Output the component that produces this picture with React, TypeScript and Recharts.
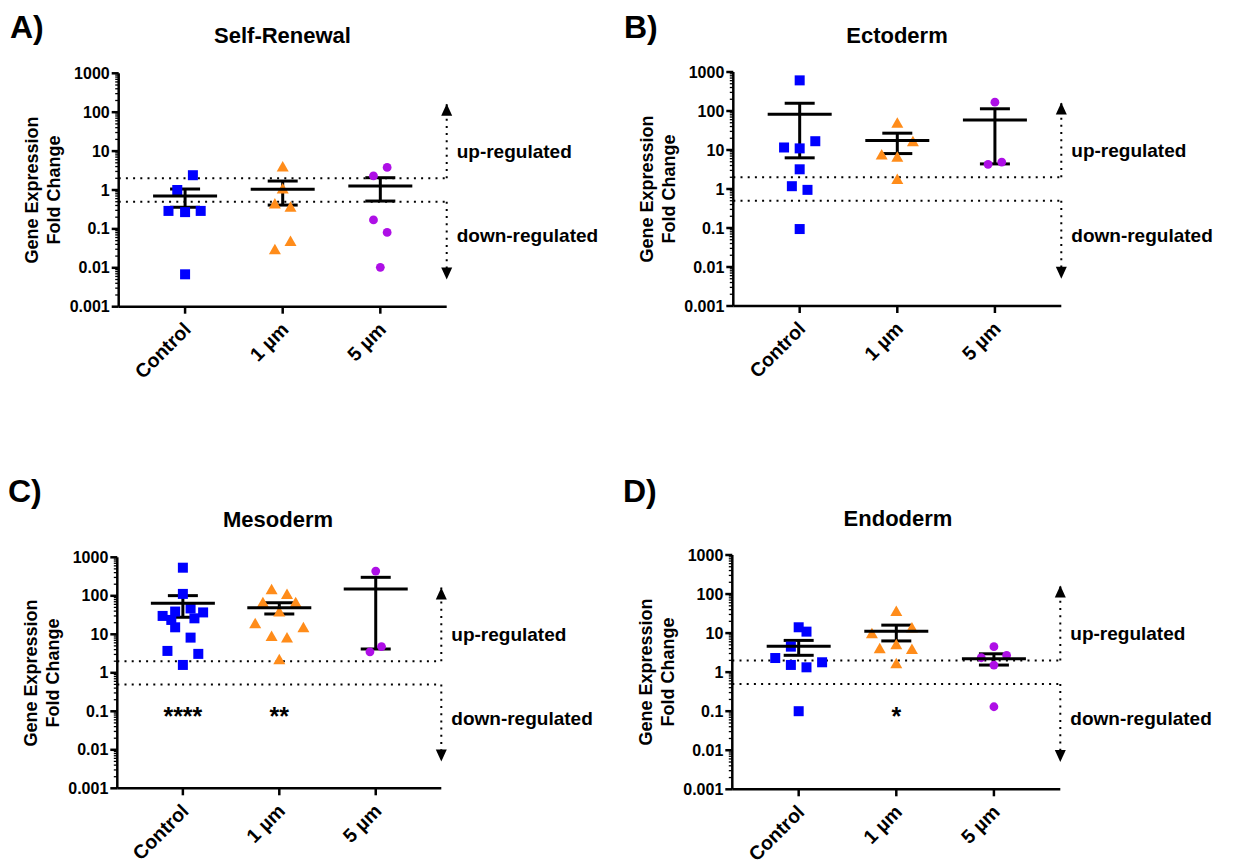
import React from 'react';
import { ComposedChart, Scatter, XAxis, YAxis, ReferenceLine, ErrorBar } from 'recharts';

const FONT = '"Liberation Sans", Arial, Helvetica, sans-serif';
const BLUE = '#0000FF';
const ORANGE = '#FF8C1A';
const PURPLE = '#AE0FE6';

// ---- shared labels ----
const categories = ['Control', '1 \u00B5m', '5 \u00B5m'];
const categoryPos = [1, 2, 3];
const yTicks = [0.001, 0.01, 0.1, 1, 10, 100, 1000];
const yTickLabels = ['0.001', '0.01', '0.1', '1', '10', '100', '1000'];
const panelTitles = ['Self-Renewal', 'Ectoderm', 'Mesoderm', 'Endoderm'];
const panelLetters = ['A)', 'B)', 'C)', 'D)'];
const regulationLabels = ['up-regulated', 'down-regulated'];
const yLabelLines = ['Gene Expression', 'Fold Change'];
const thresholdUp = 2;
const thresholdDown = 0.5;

// ---- Panel A: Self-Renewal ----
const aCtrlY = [2.4, 1.0, 0.29, 0.27, 0.29, 0.0068];
const aCtrlX = [1.08, 0.92, 0.83, 1.0, 1.16, 1.0];
const aUm1Y = [4.0, 1.1, 0.45, 0.37, 0.049, 0.03];
const aUm1X = [2.0, 2.0, 1.92, 2.08, 2.08, 1.92];
const aUm5Y = [3.8, 2.3, 0.17, 0.081, 0.0103];
const aUm5X = [3.07, 2.93, 2.93, 3.07, 3.0];
const aMean = [0.7, 1.05, 1.27];
const aLow = [0.36, 0.41, 0.52];
const aHigh = [1.06, 1.7, 2.07];

// ---- Panel B: Ectoderm ----
const bCtrlY = [610, 11.6, 11, 16.8, 3.2, 1.18, 0.95, 0.094];
const bCtrlX = [1.0, 0.84, 1.0, 1.16, 1.0, 0.92, 1.08, 1.0];
const bUm1Y = [50, 16.8, 7.7, 6.7, 1.8];
const bUm1X = [2.0, 2.16, 1.84, 2.0, 2.0];
const bUm5Y = [168, 4.3, 4.9];
const bUm5X = [3.0, 2.93, 3.07];
const bMean = [82, 17.5, 59];
const bLow = [6.3, 8.1, 4.4];
const bHigh = [158, 27, 114];

// ---- Panel C: Mesoderm ----
const cCtrlY = [537, 112, 30, 39, 47, 37, 26, 23.6, 15.2, 8.2, 3.7, 3.1, 1.6];
const cCtrlX = [1.0, 1.0, 0.79, 0.92, 1.08, 1.21, 1.12, 0.88, 0.92, 1.08, 0.84, 1.16, 1.0];
const cUm1Y = [148, 112, 68, 68, 39, 19.3, 15.2, 9.1, 8.3, 2.24];
const cUm1X = [1.92, 2.08, 1.83, 2.17, 2.0, 1.75, 2.25, 1.92, 2.08, 2.0];
const cUm5Y = [440, 3.5, 4.8];
const cUm5X = [3.0, 2.94, 3.06];
const cMean = [64, 49, 150];
const cLow = [27.7, 33.7, 4.15];
const cHigh = [101, 66, 302];
const cStars = ['****', '**', ''];

// ---- Panel D: Endoderm ----
const dCtrlY = [14.1, 10.9, 4.5, 2.3, 1.79, 1.53, 1.33, 0.1];
const dCtrlX = [1.0, 1.08, 0.92, 0.76, 1.24, 0.92, 1.08, 1.0];
const dUm1Y = [37, 14, 9.9, 4.1, 5.2, 3.9, 1.69];
const dUm1X = [2.0, 2.16, 1.75, 1.83, 2.0, 2.16, 2.0];
const dUm5Y = [4.5, 2.34, 2.7, 1.52, 0.13];
const dUm5X = [3.0, 2.87, 3.13, 3.0, 3.0];
const dMean = [4.6, 11.2, 2.2];
const dLow = [2.7, 6.3, 1.52];
const dHigh = [6.5, 16, 2.95];
const dStars = ['', '*', ''];

// annotation anchor values (data units)
const X_MIN = 0.32;
const X_MAX = 3.68;
const ARROW_UP_TIP = 165;
const ARROW_DOWN_TIP = 0.005;
const UP_LABEL_Y = 10;
const DOWN_LABEL_Y = 0.066;
const STAR_Y = [0.1, 0.1, 0.075];

const minorTicks: number[] = [];
for (let e = -3; e < 3; e++) for (let m = 1; m < 10; m++) minorTicks.push(+(m * Math.pow(10, e)).toPrecision(6));
minorTicks.push(1000);

const zip = (xs: number[], ys: number[]) => xs.map((x, i) => ({ x, y: ys[i] }));

const Square = (p: any) => <rect x={p.cx - 5} y={p.cy - 5} width={10} height={10} fill={BLUE} />;
const Triangle = (p: any) => (
  <polygon points={`${p.cx},${p.cy - 5.5} ${p.cx + 6},${p.cy + 5} ${p.cx - 6},${p.cy + 5}`} fill={ORANGE} />
);
const Dot = (p: any) => <circle cx={p.cx} cy={p.cy} r={4.4} fill={PURPLE} />;
const MeanLine = (p: any) => (
  <line x1={p.cx - 32} x2={p.cx + 32} y1={p.cy} y2={p.cy} stroke="#000" strokeWidth={3} />
);
const UpArrow = (p: any) => (
  <polygon points={`${p.cx},${p.cy} ${p.cx + 5.5},${p.cy + 12} ${p.cx - 5.5},${p.cy + 12}`} fill="#000" />
);
const DownArrow = (p: any) => (
  <polygon points={`${p.cx},${p.cy} ${p.cx + 5.5},${p.cy - 12} ${p.cx - 5.5},${p.cy - 12}`} fill="#000" />
);
const makeSideLabel = (txt: string) => (p: any) => (
  <text x={p.cx + 10} y={p.cy} dominantBaseline="central" fontSize={19} fontWeight="bold" fontFamily={FONT} fill="#000">
    {txt}
  </text>
);
const UpLabel = makeSideLabel(regulationLabels[0]);
const DownLabel = makeSideLabel(regulationLabels[1]);
const StarLabel = (p: any) => (
  <text x={p.cx} y={p.cy + 14} textAnchor="middle" fontSize={25} fontWeight="bold" fontFamily={FONT} fill="#000">
    {p.t ?? p.payload?.t}
  </text>
);

const isMajor = (v: number) => Math.abs(Math.log10(v) - Math.round(Math.log10(v))) < 1e-6;

const YTick = (props: any) => {
  const { x, y, payload } = props;
  const v = payload.value;
  const major = isMajor(v);
  const idx = yTicks.findIndex((t) => Math.abs(Math.log10(t) - Math.log10(v)) < 1e-6);
  return (
    <g>
      <line x1={x - (major ? 7 : 3.5)} x2={x} y1={y} y2={y} stroke="#000" strokeWidth={major ? 2.5 : 1.3} />
      {major && idx >= 0 && (
        <text x={x - 9} y={y} textAnchor="end" dominantBaseline="central" fontSize={16} fontWeight="bold" fontFamily={FONT} fill="#000">
          {yTickLabels[idx]}
        </text>
      )}
    </g>
  );
};

const XTick = (props: any) => {
  const { x, y, payload } = props;
  const idx = categoryPos.indexOf(payload.value);
  const ax = x + 7;
  const ay = y + 24;
  return (
    <g>
      <line x1={x} x2={x} y1={y} y2={y + 7} stroke="#000" strokeWidth={2.5} />
      <text x={ax} y={ay} transform={`rotate(-45 ${ax} ${ay})`} textAnchor="end" fontSize={19.5} fontWeight="bold" fontFamily={FONT} fill="#000">
        {categories[idx]}
      </text>
    </g>
  );
};

type PanelCfg = {
  ox: number; oy: number; cw: number; ch: number;
  px: number; py: number; pw: number; ph: number;
  ctrl: { x: number; y: number }[]; um1: { x: number; y: number }[]; um5: { x: number; y: number }[];
  mean: number[]; lo: number[]; hi: number[]; stars?: string[];
};

const Y_AXIS_W = 100;
const X_AXIS_H = 60;

function Panel({ cfg }: { cfg: PanelCfg }) {
  const { ox, oy, cw, ch, px, py, pw, ph } = cfg;
  const margin = {
    left: px - ox - Y_AXIS_W,
    top: py - oy,
    right: cw - (px - ox) - pw,
    bottom: ch - (py - oy) - ph - X_AXIS_H,
  };
  const meanData = categoryPos.map((x, i) => ({ x, y: cfg.mean[i], err: [cfg.mean[i] - cfg.lo[i], cfg.hi[i] - cfg.mean[i]] }));
  const starData = (cfg.stars || [])
    .map((t, i) => ({ x: categoryPos[i], y: STAR_Y[i], t }))
    .filter((d) => d.t);
  const dotted = { stroke: '#000', strokeWidth: 2, strokeDasharray: '2 5.2' };
  return (
    <div style={{ position: 'absolute', left: ox, top: oy }}>
      <ComposedChart width={cw} height={ch} margin={margin} style={{ overflow: 'visible' }}>
        <XAxis
          type="number"
          dataKey="x"
          domain={[X_MIN, X_MAX]}
          ticks={categoryPos}
          interval={0}
          height={X_AXIS_H}
          tickLine={false}
          tickSize={0}
          tickMargin={0}
          axisLine={{ stroke: '#000', strokeWidth: 2.5 }}
          tick={(p: any) => <XTick {...p} />}
        />
        <YAxis
          type="number"
          dataKey="y"
          scale="log"
          domain={[0.001, 1000]}
          ticks={minorTicks}
          interval={0}
          width={Y_AXIS_W}
          tickLine={false}
          tickSize={0}
          tickMargin={0}
          axisLine={{ stroke: '#000', strokeWidth: 2.5 }}
          tick={(p: any) => <YTick {...p} />}
        />
        <ReferenceLine y={thresholdUp} {...dotted} ifOverflow="visible" />
        <ReferenceLine y={thresholdDown} {...dotted} ifOverflow="visible" />
        <ReferenceLine segment={[{ x: X_MAX, y: thresholdUp }, { x: X_MAX, y: ARROW_UP_TIP }]} {...dotted} ifOverflow="visible" />
        <ReferenceLine segment={[{ x: X_MAX, y: thresholdDown }, { x: X_MAX, y: ARROW_DOWN_TIP }]} {...dotted} ifOverflow="visible" />
        <Scatter data={[{ x: X_MAX, y: ARROW_UP_TIP }]} shape={UpArrow} isAnimationActive={false} />
        <Scatter data={[{ x: X_MAX, y: ARROW_DOWN_TIP }]} shape={DownArrow} isAnimationActive={false} />
        <Scatter data={[{ x: X_MAX, y: UP_LABEL_Y }]} shape={UpLabel} isAnimationActive={false} />
        <Scatter data={[{ x: X_MAX, y: DOWN_LABEL_Y }]} shape={DownLabel} isAnimationActive={false} />
        <Scatter data={cfg.ctrl} shape={Square} isAnimationActive={false} />
        <Scatter data={cfg.um1} shape={Triangle} isAnimationActive={false} />
        <Scatter data={cfg.um5} shape={Dot} isAnimationActive={false} />
        <Scatter data={meanData} shape={MeanLine} isAnimationActive={false}>
          <ErrorBar dataKey="err" direction="y" width={15} strokeWidth={3} stroke="#000" isAnimationActive={false} />
        </Scatter>
        {starData.length > 0 && <Scatter data={starData} shape={StarLabel} isAnimationActive={false} />}
      </ComposedChart>
    </div>
  );
}

const panels: PanelCfg[] = [
  { ox: 0, oy: 0, cw: 614, ch: 484, px: 118.7, py: 73.3, pw: 328, ph: 233.4,
    ctrl: zip(aCtrlX, aCtrlY), um1: zip(aUm1X, aUm1Y), um5: zip(aUm5X, aUm5Y), mean: aMean, lo: aLow, hi: aHigh },
  { ox: 614, oy: 0, cw: 624, ch: 484, px: 733.3, py: 72, pw: 328, ph: 234,
    ctrl: zip(bCtrlX, bCtrlY), um1: zip(bUm1X, bUm1Y), um5: zip(bUm5X, bUm5Y), mean: bMean, lo: bLow, hi: bHigh },
  { ox: 0, oy: 484, cw: 614, ch: 381, px: 117.3, py: 557.3, pw: 324, ph: 231,
    ctrl: zip(cCtrlX, cCtrlY), um1: zip(cUm1X, cUm1Y), um5: zip(cUm5X, cUm5Y), mean: cMean, lo: cLow, hi: cHigh, stars: cStars },
  { ox: 614, oy: 484, cw: 624, ch: 381, px: 732.3, py: 555, pw: 328, ph: 234.3,
    ctrl: zip(dCtrlX, dCtrlY), um1: zip(dUm1X, dUm1Y), um5: zip(dUm5X, dUm5Y), mean: dMean, lo: dLow, hi: dHigh, stars: dStars },
];

const titlePos = [[282.5, 43], [897, 43], [278, 527], [898, 526]];
const letterPos = [[10, 38], [624, 38], [8, 502], [623, 502]];
const yLabelPos = [[38, 60, 190], [652.5, 674.5, 189], [36.6, 58.6, 673], [651.6, 673.6, 672]];

export default function App() {
  return (
    <div style={{ position: 'fixed', left: 0, top: 0, width: 1238, height: 865, background: '#fff', overflow: 'hidden' }}>
      {panels.map((cfg, i) => (
        <Panel key={i} cfg={cfg} />
      ))}
      <svg width={1238} height={865} style={{ position: 'absolute', left: 0, top: 0, pointerEvents: 'none' }}>
        {panelTitles.map((t, i) => (
          <text key={'t' + i} x={titlePos[i][0]} y={titlePos[i][1]} textAnchor="middle" fontSize={22} fontWeight="bold" fontFamily={FONT} fill="#000">
            {t}
          </text>
        ))}
        {panelLetters.map((t, i) => (
          <text key={'l' + i} x={letterPos[i][0]} y={letterPos[i][1]} fontSize={32} fontWeight="bold" fontFamily={FONT} fill="#000">
            {t}
          </text>
        ))}
        {yLabelPos.map((p, i) => (
          <g key={'y' + i}>
            {yLabelLines.map((line, j) => (
              <text key={j} x={p[j]} y={p[2]} transform={`rotate(-90 ${p[j]} ${p[2]})`} textAnchor="middle" fontSize={18} fontWeight="bold" fontFamily={FONT} fill="#000">
                {line}
              </text>
            ))}
          </g>
        ))}
      </svg>
    </div>
  );
}
